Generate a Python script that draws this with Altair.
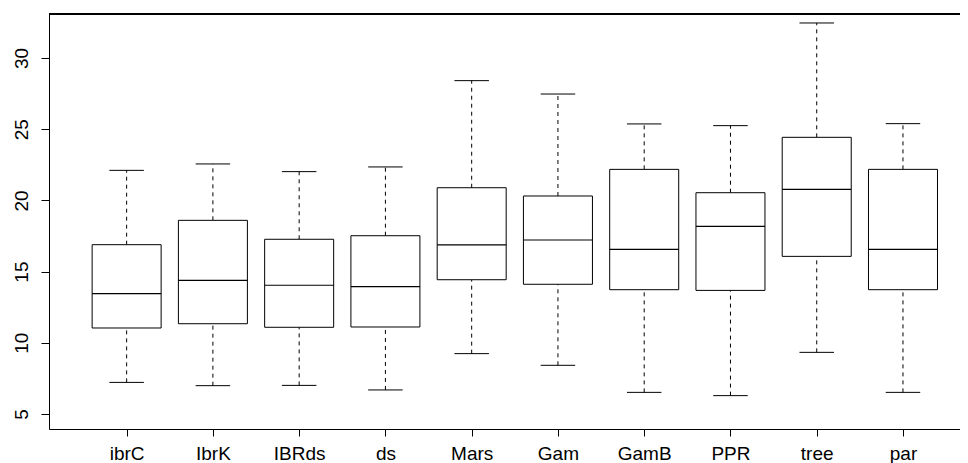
import altair as alt
import pandas as pd

names = ["ibrC", "IbrK", "IBRds", "ds", "Mars", "Gam", "GamB", "PPR", "tree", "par"]
lower = [7.22, 6.99, 7.01, 6.69, 9.24, 8.42, 6.52, 6.29, 9.33, 6.52]
q1 = [11.04, 11.34, 11.09, 11.11, 14.43, 14.11, 13.73, 13.68, 16.07, 13.73]
median = [13.45, 14.39, 14.04, 13.94, 16.87, 17.22, 16.56, 18.18, 20.78, 16.56]
q3 = [16.89, 18.60, 17.27, 17.52, 20.89, 20.31, 22.18, 20.54, 24.43, 22.18]
upper = [22.11, 22.56, 22.02, 22.35, 28.41, 27.47, 25.37, 25.25, 32.46, 25.39]
y_ticks = [5, 10, 15, 20, 25, 30]

df = pd.DataFrame({
    "name": names,
    "pos": list(range(1, len(names) + 1)),
    "lower": lower, "q1": q1, "median": median, "q3": q3, "upper": upper,
})

FONT = "Liberation Sans"
label_list = "[" + ",".join("'" + n + "'" for n in names) + "]"

xscale = alt.Scale(domain=[0.1, 10.661], nice=False, zero=False)
yscale = alt.Scale(domain=[3.947, 33.09], nice=False, zero=False)

xaxis = alt.Axis(values=list(range(1, len(names) + 1)), labelExpr=label_list + "[datum.value - 1]",
                 title=None, grid=False, tickSize=7, labelPadding=23, labelBaseline="alphabetic",
                 labelFont=FONT, labelFontSize=19, labelColor="black", domainColor="black",
                 tickColor="black", labelFlush=False)
yaxis = alt.Axis(values=y_ticks, title=None, grid=False, tickSize=8, labelAngle=270,
                 labelAlign="center", labelBaseline="alphabetic", labelPadding=14,
                 labelFont=FONT, labelFontSize=19, labelColor="black", domainColor="black",
                 tickColor="black", labelFlush=False)

base = alt.Chart(df).transform_calculate(
    bx1="datum.pos - 0.4", bx2="datum.pos + 0.4",
    cx1="datum.pos - 0.2", cx2="datum.pos + 0.2",
)

boxes = base.mark_rect(fill="white", stroke="black", strokeWidth=1).encode(
    x=alt.X("bx1:Q", scale=xscale, axis=xaxis), x2="bx2:Q",
    y=alt.Y("q1:Q", scale=yscale, axis=yaxis), y2="q3:Q",
)
med = base.mark_rule(color="black", strokeWidth=1.2).encode(
    x=alt.X("bx1:Q", scale=xscale), x2="bx2:Q", y=alt.Y("median:Q", scale=yscale))
wh_up = base.mark_rule(color="black", strokeWidth=1, strokeDash=[4, 4]).encode(
    x=alt.X("pos:Q", scale=xscale), y=alt.Y("q3:Q", scale=yscale), y2="upper:Q")
wh_lo = base.mark_rule(color="black", strokeWidth=1, strokeDash=[4, 4]).encode(
    x=alt.X("pos:Q", scale=xscale), y=alt.Y("lower:Q", scale=yscale), y2="q1:Q")
cap_up = base.mark_rule(color="black", strokeWidth=1).encode(
    x=alt.X("cx1:Q", scale=xscale), x2="cx2:Q", y=alt.Y("upper:Q", scale=yscale))
cap_lo = base.mark_rule(color="black", strokeWidth=1).encode(
    x=alt.X("cx1:Q", scale=xscale), x2="cx2:Q", y=alt.Y("lower:Q", scale=yscale))
top = alt.Chart(df).mark_rule(color="black", strokeWidth=1).encode(y=alt.value(0))

chart = alt.layer(wh_up, wh_lo, cap_up, cap_lo, boxes, med, top).properties(
    width=911, height=415,
    autosize=alt.AutoSizeParams(type="none"),
    padding={"left": 41, "top": 6, "right": 0, "bottom": 34},
).configure_view(stroke=None).configure(background="white")

chart.save("out.html", embed_options={"renderer": "svg", "actions": False})
